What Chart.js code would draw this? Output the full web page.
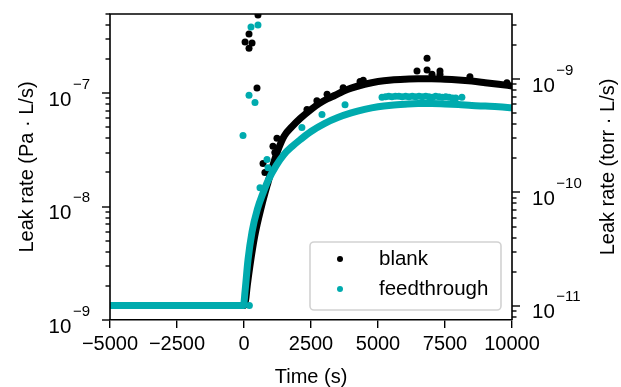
<!DOCTYPE html>
<html><head><meta charset="utf-8">
<script src="https://cdn.jsdelivr.net/npm/chart.js@4"></script>
<style>html,body{margin:0;padding:0;background:#fff;}#wrap{width:621px;height:387px;position:relative;}</style>
</head><body><div id="wrap"><canvas id="c" width="621" height="387"></canvas></div>
<script>
const PA_PER_TORR = 133.322;
const xTicks = [-5000, -2500, 0, 2500, 5000, 7500, 10000];
const leftMajorTicks = [1e-9, 1e-8, 1e-7];
const rightMajorTicks = [1e-11, 1e-10, 1e-9];
const yMinPa = 1e-9, yMaxPa = 5e-7;

// blank: dense band (read along its centre) and scattered points
const blankTime = [-5000, 0, 60, 120, 220, 400, 650, 900, 1100, 1300, 1500, 1800, 2100, 2500, 2800, 3100, 3400, 3700, 4000, 4500, 5000, 5500, 6000, 6500, 7000, 7500, 8000, 8500, 9000, 9500, 10000];
const blankRate = [1.34e-9, 1.34e-9, 1.5e-9, 2.0e-9, 3.0e-9, 5.5e-9, 1.0e-8, 1.65e-8, 2.4e-8, 3.3e-8, 4.2e-8, 5.1e-8, 6.0e-8, 7.2e-8, 8.1e-8, 8.9e-8, 9.6e-8, 1.04e-7, 1.11e-7, 1.2e-7, 1.27e-7, 1.31e-7, 1.33e-7, 1.34e-7, 1.34e-7, 1.33e-7, 1.31e-7, 1.28e-7, 1.24e-7, 1.2e-7, 1.16e-7];
const blankExtraTime = [40, 187, 187, 300, 522, 485, 710, 780, 1080, 1150, 1230, 2350, 2720, 3100, 3700, 4330, 4450, 6455, 6830, 6830, 7015, 7313, 7313, 8430, 9810];
const blankExtraRate = [2.83e-7, 3.33e-7, 2.5e-7, 2.78e-7, 4.9e-7, 1.11e-7, 2.4e-8, 2.0e-8, 3.4e-8, 3.0e-8, 4.0e-8, 7.2e-8, 8.6e-8, 9.8e-8, 1.12e-7, 1.27e-7, 1.3e-7, 1.57e-7, 2.04e-7, 1.6e-7, 1.47e-7, 1.57e-7, 1.47e-7, 1.4e-7, 1.24e-7];

// feedthrough
const feedTime = [-5000, -20, 40, 150, 300, 500, 700, 900, 1200, 1500, 1800, 2100, 2500, 3000, 3500, 4000, 4500, 5000, 5500, 6000, 6500, 7000, 7500, 8000, 8500, 9000, 9500, 10000];
const feedRate = [1.34e-9, 1.34e-9, 1.8e-9, 3.4e-9, 6.0e-9, 9.5e-9, 1.3e-8, 1.7e-8, 2.3e-8, 2.9e-8, 3.4e-8, 3.9e-8, 4.6e-8, 5.4e-8, 6.1e-8, 6.7e-8, 7.2e-8, 7.6e-8, 7.85e-8, 8.0e-8, 8.1e-8, 8.1e-8, 8.05e-8, 7.95e-8, 7.8e-8, 7.7e-8, 7.6e-8, 7.45e-8];
const feedExtraTime = [-37, 187, 261, 410, 522, 200, 597, 858, 896, 2160, 2910, 3770, 5150, 5280, 5400, 5520, 5650, 5780, 5900, 6030, 6150, 6280, 6400, 6530, 6650, 6780, 6900, 7030, 7150, 7280, 7400, 7530, 7650, 7780, 7900, 8130];
const feedExtraRate = [4.25e-8, 9.6e-8, 3.84e-7, 8.3e-8, 4.0e-7, 1.34e-9, 1.47e-8, 2.6e-8, 2.2e-8, 5.0e-8, 6.5e-8, 7.9e-8, 9.2e-8, 9.3e-8, 9.4e-8, 9.3e-8, 9.4e-8, 9.4e-8, 9.3e-8, 9.4e-8, 9.3e-8, 9.4e-8, 9.3e-8, 9.4e-8, 9.3e-8, 9.4e-8, 9.3e-8, 9.2e-8, 9.4e-8, 9.3e-8, 9.2e-8, 9.3e-8, 9.2e-8, 9.1e-8, 9.1e-8, 9.2e-8];

const seriesNames = ['blank', 'feedthrough'];
const BLACK = '#000000';
const TEAL = '#00abae';
const FONT = "'Liberation Sans', Arial, Helvetica, sans-serif";

const pts = (t, v) => t.map((x, i) => ({x: x, y: v[i]}));

function supLabel(ctx, x, y, exp, alignRight) {
  ctx.font = '20.5px ' + FONT;
  const w1 = ctx.measureText('10').width;
  ctx.font = '15px ' + FONT;
  const w2 = ctx.measureText(exp).width;
  const gap = 1.5;
  const x0 = alignRight ? x - (w1 + gap + w2) : x;
  ctx.textAlign = 'left'; ctx.textBaseline = 'alphabetic';
  ctx.fillStyle = '#000';
  ctx.font = '20.5px ' + FONT; ctx.fillText('10', x0, y + 12.5);
  ctx.font = '15px ' + FONT; ctx.fillText(exp, x0 + w1 + gap, y - 4.5);
}
function expStr(v) { const e = Math.round(Math.log10(v)); return (e < 0 ? '\u2212' : '') + Math.abs(e); }

const axesPlugin = {
  id: 'axesPlugin',
  afterDraw(chart) {
    const ctx = chart.ctx, a = chart.chartArea;
    const yL = chart.scales.y, yR = chart.scales.y2;
    ctx.save();
    ctx.strokeStyle = '#000';
    ctx.lineWidth = 1.6;
    ctx.beginPath();
    ctx.moveTo(a.left, a.bottom); ctx.lineTo(a.left, a.top); ctx.lineTo(a.right, a.top); ctx.lineTo(a.right, a.bottom);
    ctx.stroke();
    ctx.lineWidth = 1.4;
    const drawTicks = (scale, x, dir, majors) => {
      const lo = scale.min, hi = scale.max;
      for (let n = Math.floor(Math.log10(lo)); n <= Math.ceil(Math.log10(hi)); n++) {
        for (let k = 1; k <= 9; k++) {
          const v = k * Math.pow(10, n);
          if (v < lo * 0.9999 || v > hi * 1.0001) continue;
          const py = Math.round(scale.getPixelForValue(v));
          const len = k === 1 ? 8 : 4.5;
          ctx.beginPath(); ctx.moveTo(x, py); ctx.lineTo(x + dir * len, py); ctx.stroke();
        }
      }
      majors.forEach(v => {
        const py = scale.getPixelForValue(v);
        supLabel(ctx, dir < 0 ? x - 20 : x + 20, py, expStr(v), dir < 0);
      });
    };
    drawTicks(yL, a.left, -1, leftMajorTicks);
    drawTicks(yR, a.right, 1, rightMajorTicks);
    // axis titles
    ctx.fillStyle = '#000';
    ctx.font = '20px ' + FONT;
    ctx.textAlign = 'center'; ctx.textBaseline = 'alphabetic';
    const cy = (a.top + a.bottom) / 2;
    ctx.save(); ctx.translate(33, cy); ctx.rotate(-Math.PI / 2); ctx.fillText('Leak rate (Pa \u00b7 L/s)', 0, 0); ctx.restore();
    ctx.save(); ctx.translate(614, cy); ctx.rotate(-Math.PI / 2); ctx.fillText('Leak rate (torr \u00b7 L/s)', 0, 0); ctx.restore();
    ctx.restore();
  }
};

const legendPlugin = {
  id: 'legendPlugin',
  afterDatasetsDraw(chart) {
    const ctx = chart.ctx, a = chart.chartArea;
    const w = 191, h = 68;
    const x = a.right - 11 - w, y = a.bottom - 10 - h;
    ctx.save();
    ctx.beginPath();
    ctx.roundRect(x, y, w, h, 4);
    ctx.fillStyle = 'rgba(255,255,255,0.85)';
    ctx.fill();
    ctx.strokeStyle = '#d2d2d2';
    ctx.lineWidth = 1.6;
    ctx.stroke();
    const colors = [BLACK, TEAL];
    seriesNames.forEach((name, i) => {
      const ry = y + 17 + i * 30;
      ctx.beginPath(); ctx.arc(x + 30, ry, 3, 0, Math.PI * 2); ctx.fillStyle = colors[i]; ctx.fill();
      ctx.fillStyle = '#000'; ctx.font = '20.5px ' + FONT; ctx.textAlign = 'left'; ctx.textBaseline = 'middle';
      ctx.fillText(name, x + 69, ry);
    });
    ctx.restore();
  }
};

const lineDs = (label, data, color, order) => ({
  label, data, showLine: true, borderColor: color, backgroundColor: color, borderWidth: 7,
  pointRadius: 0, pointHoverRadius: 0, cubicInterpolationMode: 'monotone',
  borderCapStyle: 'round', borderJoinStyle: 'round', order, yAxisID: 'y'
});
const dotDs = (label, data, color, order) => ({
  label, data, showLine: false, pointRadius: 3.5, pointBorderWidth: 0,
  pointBackgroundColor: color, backgroundColor: color, borderColor: color, order, yAxisID: 'y'
});

new Chart(document.getElementById('c'), {
  type: 'scatter',
  data: {
    datasets: [
      lineDs(seriesNames[0], pts(blankTime, blankRate), BLACK, 4),
      dotDs(seriesNames[0] + ' points', pts(blankExtraTime, blankExtraRate), BLACK, 3),
      lineDs(seriesNames[1], pts(feedTime, feedRate), TEAL, 2),
      dotDs(seriesNames[1] + ' points', pts(feedExtraTime, feedExtraRate), TEAL, 1)
    ]
  },
  options: {
    responsive: false, animation: false, devicePixelRatio: 1,
    layout: {padding: {top: 14, left: 0, right: 0, bottom: 0}},
    plugins: {legend: {display: false}, tooltip: {enabled: false}},
    scales: {
      x: {
        type: 'linear', position: 'bottom', min: -5000, max: 10000,
        afterBuildTicks: s => { s.ticks = xTicks.map(v => ({value: v})); },
        afterFit: s => { s.height = 67; },
        ticks: {
          color: '#000', font: {family: FONT, size: 20}, padding: 4, maxRotation: 0, autoSkip: false,
          callback: v => (v < 0 ? '\u2212' : '') + Math.abs(v)
        },
        grid: {drawOnChartArea: false, drawTicks: true, tickLength: 8, color: '#000', lineWidth: 1.4},
        border: {display: true, color: '#000', width: 1.6},
        title: {display: true, text: 'Time (s)', color: '#000', font: {family: FONT, size: 20, lineHeight: 1}, padding: 0}
      },
      y: {
        type: 'logarithmic', position: 'left', min: yMinPa, max: yMaxPa,
        ticks: {display: false}, grid: {display: false}, border: {display: false},
        afterFit: s => { s.width = 110; }
      },
      y2: {
        type: 'logarithmic', position: 'right', min: yMinPa / PA_PER_TORR, max: yMaxPa / PA_PER_TORR,
        ticks: {display: false}, grid: {display: false}, border: {display: false},
        afterFit: s => { s.width = 109; }
      }
    }
  },
  plugins: [axesPlugin, legendPlugin]
});
</script></body></html>
